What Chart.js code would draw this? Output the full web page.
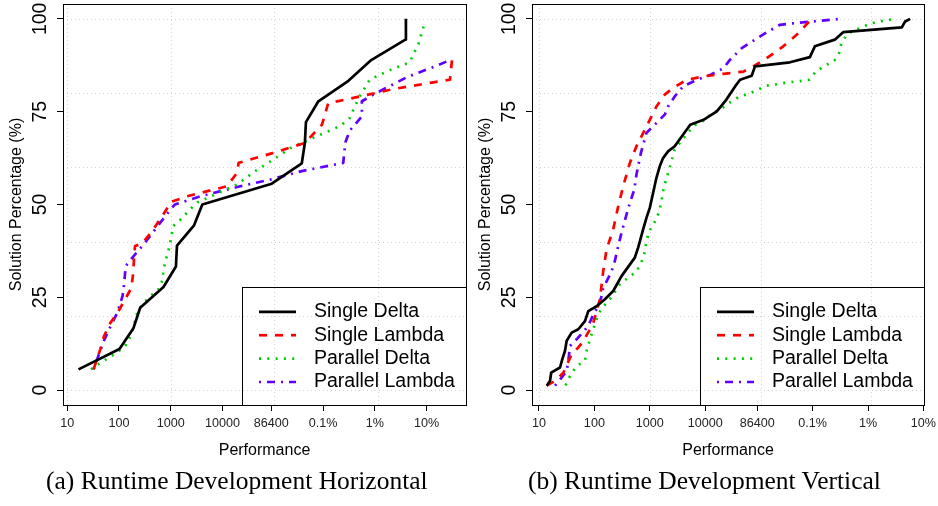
<!DOCTYPE html>
<html>
<head>
<meta charset="utf-8">
<script src="https://cdn.jsdelivr.net/npm/chart.js@4.4.1/dist/chart.umd.min.js"></script>
<style>
  html, body { margin: 0; padding: 0; background: #fff; }
  body { width: 938px; height: 506px; position: relative; overflow: hidden; }
  .panel { position: absolute; top: 0; width: 469px; height: 470px; }
  .caption {
    position: absolute; top: 468px; white-space: nowrap;
    font-family: "Liberation Serif", "Times New Roman", serif;
    font-size: 25.5px; line-height: 25.5px; color: #000;
  }
</style>
</head>
<body>
<div class="panel" style="left:0"><canvas id="horizChart" width="469" height="470"></canvas></div>
<div class="panel" style="left:469px"><canvas id="vertChart" width="469" height="470"></canvas></div>
<div class="caption" style="left:46px">(a) Runtime Development Horizontal</div>
<div class="caption" style="left:528px">(b) Runtime Development Vertical</div>

<script>
// x is the tick position on the performance axis (1 = 10, 2 = 100, ... then % penalties)
const tickValues = [1, 2, 3, 4, 4.94, 5.94, 6.94, 7.94]
const tickLabels = ["10", "100", "1000", "10000", "86400", "0.1%", "1%", "10%"]
const yTickValues = [0, 25, 50, 75, 100]
const gridXValues = [1, 3, 5, 7]
const gridYValues = [0, 20, 40, 60, 80, 100]

const seriesNames = ["Single Delta", "Single Lambda", "Parallel Delta", "Parallel Lambda"]

// (a) Horizontal
const hSingleDeltaX = [1.22, 2.01, 2.28, 2.41, 2.86, 3.10, 3.12, 3.45, 3.61, 4.95, 5.53, 5.59, 5.61, 5.85, 6.43, 6.87, 7.53, 7.54]
const hSingleDeltaY = [5.6, 11.1, 16.7, 22.2, 27.8, 33.3, 38.9, 44.4, 50, 55.6, 61.1, 66.7, 72.2, 77.8, 83.3, 88.9, 94.4, 100]

const hSingleLambdaX = [1.51, 1.64, 1.71, 1.83, 1.98, 2.10, 2.24, 2.27, 2.29, 2.31, 2.45, 2.64, 2.91, 2.99, 3.31, 4.08, 4.28, 4.31, 4.98, 5.59, 5.92, 6.04, 6.59, 7.30, 8.07, 8.39, 8.43]
const hSingleLambdaY = [5.6, 11, 14.5, 18, 21, 24, 27.5, 31, 35, 38.8, 39.5, 42.8, 48.5, 50.6, 52.2, 54.9, 58.5, 61.2, 63.9, 66.6, 71.5, 77.3, 78.9, 81.1, 82.9, 83.6, 89]

const hParallelDeltaX = [1.46, 1.64, 1.98, 2.14, 2.24, 2.35, 2.45, 2.60, 2.76, 2.84, 2.86, 2.91, 2.97, 3.05, 3.21, 3.36, 3.52, 3.92, 4.28, 4.63, 4.98, 5.31, 5.53, 5.92, 6.28, 6.45, 6.62, 6.84, 7.20, 7.61, 7.78, 7.90]
const hParallelDeltaY = [5.6, 7.3, 10.3, 12.3, 15, 20.7, 23.1, 25.2, 27.1, 29.6, 32.5, 35.4, 38.4, 44.2, 46.2, 48.5, 50.6, 53.1, 55.4, 59, 62.1, 65.2, 66.6, 69, 71.2, 73.2, 78.4, 83.6, 86, 88.3, 93.2, 98.8]

const hParallelLambdaX = [1.51, 1.58, 1.71, 1.81, 1.97, 2.07, 2.10, 2.13, 2.26, 2.45, 2.65, 2.97, 3.08, 3.57, 4.34, 4.92, 5.53, 6.33, 6.37, 6.46, 6.69, 6.69, 6.91, 7.56, 8.10, 8.41]
const hParallelLambdaY = [5.6, 8.3, 13.3, 16.4, 20.9, 25.4, 28.5, 33.4, 35.7, 38.8, 42.4, 48.2, 50, 52.2, 54.9, 56.7, 59, 61.2, 66.7, 70, 73.7, 77.8, 79.6, 84.3, 87.2, 89]

// (b) Vertical
const vSingleDeltaX = [1.14, 1.20, 1.22, 1.38, 1.42, 1.47, 1.50, 1.59, 1.71, 1.83, 1.89, 2.04, 2.19, 2.34, 2.49, 2.73, 2.79, 2.88, 2.94, 3.00, 3.06, 3.12, 3.18, 3.24, 3.33, 3.45, 3.58, 3.73, 3.97, 4.21, 4.38, 4.54, 4.63, 4.84, 4.90, 5.53, 5.89, 5.98, 6.34, 6.49, 7.55, 7.61, 7.70]
const vSingleDeltaY = [1.2, 2.5, 4.7, 6.1, 8.3, 10.6, 13.3, 15.5, 16.4, 18.6, 21.3, 22.6, 24.5, 26.7, 30.7, 35.7, 38.4, 43.3, 46.4, 49.1, 53.1, 57.2, 60.3, 62.5, 64.3, 65.7, 68.4, 71.5, 72.8, 75.1, 78.2, 81.8, 83.6, 84.7, 87.2, 88.3, 89.7, 92.6, 94.4, 96.4, 97.7, 99.3, 100]

const vSingleLambdaX = [1.14, 1.29, 1.44, 1.59, 1.71, 1.80, 1.92, 1.98, 2.10, 2.16, 2.22, 2.34, 2.43, 2.52, 2.64, 2.76, 2.94, 3.12, 3.27, 3.42, 3.67, 3.97, 4.33, 4.69, 4.87, 5.11, 5.41, 5.68, 5.92]
const vSingleLambdaY = [1.2, 2.5, 4.7, 9.7, 11.5, 13.2, 16.4, 18.2, 24.5, 32.1, 37.9, 43.3, 49.5, 54.9, 61.2, 65.7, 71, 76.4, 79.6, 81.4, 83.6, 84.5, 85.2, 85.8, 87.2, 89.4, 92.6, 96.1, 100]

const vParallelDeltaX = [1.48, 1.56, 1.68, 1.83, 1.86, 1.92, 1.98, 2.04, 2.12, 2.28, 2.46, 2.61, 2.76, 2.85, 2.91, 2.94, 2.99, 3.09, 3.17, 3.21, 3.24, 3.29, 3.35, 3.40, 3.45, 3.69, 3.83, 4.00, 4.12, 4.30, 4.45, 4.62, 4.76, 4.92, 5.11, 5.30, 5.50, 5.70, 5.88, 5.99, 6.16, 6.33, 6.42, 6.46, 6.58, 6.75, 6.93, 7.12, 7.32, 7.40]
const vParallelDeltaY = [1.3, 3.8, 6.5, 7.9, 10.6, 13.7, 16.4, 19.1, 21.8, 24.5, 28.5, 30.3, 31.9, 34.5, 37.2, 40.1, 42.8, 45.3, 48, 50.9, 53.6, 56.5, 59.4, 62.1, 64.8, 69.4, 71.5, 72.8, 74.6, 75.9, 77.5, 79.1, 79.7, 80.7, 82, 82.4, 82.9, 83.2, 83.6, 85.7, 87.4, 88.7, 90.9, 93.6, 96.1, 97.2, 98.4, 99.3, 99.7, 100]

const vParallelLambdaX = [1.29, 1.41, 1.50, 1.53, 1.56, 1.68, 1.89, 1.98, 2.07, 2.13, 2.16, 2.30, 2.37, 2.43, 2.49, 2.58, 2.64, 2.72, 2.76, 2.84, 2.94, 3.15, 3.27, 3.33, 3.45, 3.60, 3.82, 4.09, 4.33, 4.45, 4.66, 4.90, 5.08, 5.35, 5.59, 5.95, 6.25, 6.46]
const vParallelLambdaY = [1.2, 3.4, 5.2, 7.9, 11.9, 13.7, 17.3, 20.4, 22.6, 25.3, 27.6, 31.6, 34.8, 38.8, 42.4, 47.3, 50.4, 54, 58.1, 63.9, 69.3, 72.4, 74.2, 76.4, 79.1, 81.8, 83.4, 84.9, 86.7, 89, 92.1, 94.4, 96.1, 98.4, 98.8, 99.3, 99.7, 100]

// styles
const seriesColors = ["#000000", "#FF0000", "#00CD00", "#6200FF"]
const seriesDashes = [[], [8, 8], [2, 6.3], [2, 6, 8, 6]]
const sansFont = '"Liberation Sans", Arial, Helvetica, sans-serif'

Chart.defaults.font.family = sansFont

function toPoints(xs, ys) {
  return xs.map((x, i) => ({ x: x, y: ys[i] }))
}

// grid, box, rotated y labels, titles and legend in R style
const framePlugin = {
  id: "rframe",
  beforeDatasetsDraw(chart) {
    const { ctx, chartArea: a, scales } = chart
    ctx.save()
    ctx.strokeStyle = "#d3d3d3"
    ctx.lineWidth = 1
    ctx.setLineDash([1, 3])
    gridXValues.forEach((v) => {
      const px = Math.round(scales.x.getPixelForValue(v)) + 0.5
      ctx.beginPath()
      ctx.moveTo(px, a.top)
      ctx.lineTo(px, a.bottom)
      ctx.stroke()
    })
    gridYValues.forEach((v) => {
      const py = Math.round(scales.y.getPixelForValue(v)) + 0.5
      ctx.beginPath()
      ctx.moveTo(a.left, py)
      ctx.lineTo(a.right, py)
      ctx.stroke()
    })
    ctx.restore()
  },
  afterDraw(chart) {
    const { ctx, chartArea: a, scales } = chart
    ctx.save()
    ctx.setLineDash([])
    ctx.strokeStyle = "#000"
    ctx.lineWidth = 1
    ctx.strokeRect(Math.round(a.left) + 0.5, Math.round(a.top) + 0.5, Math.round(a.right - a.left), Math.round(a.bottom - a.top))

    // y tick labels (parallel to axis)
    ctx.fillStyle = "#000"
    ctx.font = "19.5px " + sansFont
    ctx.textAlign = "center"
    ctx.textBaseline = "middle"
    yTickValues.forEach((v) => {
      ctx.save()
      ctx.translate(40.5, scales.y.getPixelForValue(v))
      ctx.rotate(-Math.PI / 2)
      ctx.fillText(String(v), 0, 0)
      ctx.restore()
    })

    // axis titles
    ctx.font = "16px " + sansFont
    ctx.save()
    ctx.translate(17, (a.top + a.bottom) / 2)
    ctx.rotate(-Math.PI / 2)
    ctx.fillText("Solution Percentage (%)", 0, 0)
    ctx.restore()
    ctx.fillText("Performance", (a.left + a.right) / 2, 451)

    // legend
    const lx = Math.round(a.right) - 224
    const ly = 287
    ctx.strokeRect(lx + 0.5, ly + 0.5, Math.round(a.right) - lx, Math.round(a.bottom) - ly)
    ctx.font = "19.5px " + sansFont
    ctx.textAlign = "left"
    chart.data.datasets.forEach((ds, i) => {
      const yy = ly + 24.8 + i * 23.4
      ctx.strokeStyle = ds.borderColor
      ctx.lineWidth = ds.borderWidth
      ctx.setLineDash(ds.borderDash)
      ctx.lineCap = "butt"
      ctx.beginPath()
      ctx.moveTo(lx + 17, yy)
      ctx.lineTo(lx + 54, yy)
      ctx.stroke()
      ctx.fillStyle = "#000"
      ctx.fillText(ds.label, lx + 72, yy)
    })
    ctx.restore()
  },
}

function makeChart(canvasId, xMin, xMax, rightPad, seriesX, seriesY) {
  const datasets = seriesNames.map((name, i) => ({
    label: name,
    data: toPoints(seriesX[i], seriesY[i]),
    borderColor: seriesColors[i],
    borderDash: seriesDashes[i],
    borderWidth: 2.7,
    borderCapStyle: "butt",
    borderJoinStyle: "round",
    pointRadius: 0,
    tension: 0,
    fill: false,
  }))

  return new Chart(document.getElementById(canvasId), {
    type: "line",
    data: { datasets: datasets },
    plugins: [framePlugin],
    options: {
      responsive: false,
      animation: false,
      devicePixelRatio: 1,
      layout: { padding: { left: 0, right: rightPad, top: 4, bottom: 0 } },
      plugins: { legend: { display: false }, tooltip: { enabled: false } },
      scales: {
        x: {
          type: "linear",
          min: xMin,
          max: xMax,
          afterBuildTicks: (s) => {
            s.ticks = tickValues.map((v) => ({ value: v }))
          },
          afterFit: (s) => {
            s.height = 65
            s.paddingLeft = 0
            s.paddingRight = 0
          },
          ticks: {
            autoSkip: false,
            maxRotation: 0,
            minRotation: 0,
            padding: 5,
            color: "#222",
            font: { size: 12.6 },
            callback: (v) => tickLabels[tickValues.indexOf(v)],
          },
          grid: { drawOnChartArea: false, drawTicks: true, tickLength: 6, tickColor: "#000", lineWidth: 1 },
          border: { display: true, color: "#000", width: 1 },
        },
        y: {
          type: "linear",
          min: -4,
          max: 104,
          afterBuildTicks: (s) => {
            s.ticks = yTickValues.map((v) => ({ value: v }))
          },
          afterFit: (s) => {
            s.width = 63
            s.paddingTop = 0
            s.paddingBottom = 0
          },
          ticks: { display: false },
          grid: { drawOnChartArea: false, drawTicks: true, tickLength: 6, tickColor: "#000", lineWidth: 1 },
          border: { display: true, color: "#000", width: 1 },
        },
      },
    },
  })
}

makeChart(
  "horizChart", 0.92, 8.70, 3,
  [hSingleDeltaX, hSingleLambdaX, hParallelDeltaX, hParallelLambdaX],
  [hSingleDeltaY, hSingleLambdaY, hParallelDeltaY, hParallelLambdaY]
)
makeChart(
  "vertChart", 0.874, 7.95, 14,
  [vSingleDeltaX, vSingleLambdaX, vParallelDeltaX, vParallelLambdaX],
  [vSingleDeltaY, vSingleLambdaY, vParallelDeltaY, vParallelLambdaY]
)
</script>
</body>
</html>
